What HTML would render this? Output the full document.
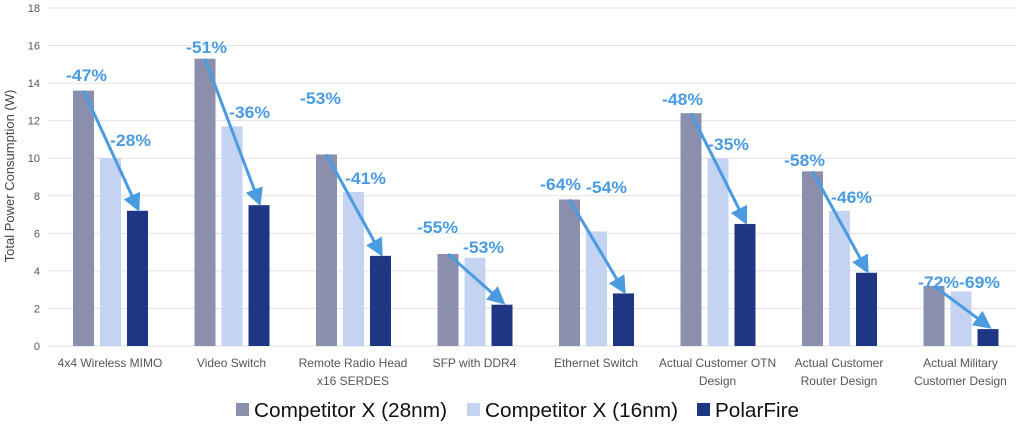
<!DOCTYPE html>
<html><head><meta charset="utf-8"><style>
body{margin:0;background:#fff}
svg{display:block;font-family:"Liberation Sans",sans-serif}
</style></head><body>
<svg id="s" width="1024" height="430" xmlns="http://www.w3.org/2000/svg">
<defs><marker id="ah" markerWidth="6" markerHeight="6" refX="4.5" refY="3" orient="auto" markerUnits="strokeWidth"><path d="M0,0 L6,3 L0,6 z" fill="#4a9be0"/></marker></defs>
<text transform="translate(14,176) rotate(-90)" text-anchor="middle" font-size="13" fill="#444">Total Power Consumption (W)</text>
</svg>
<script>
const s=document.getElementById('s');const NS='http://www.w3.org/2000/svg';
function el(t,a,txt){const e=document.createElementNS(NS,t);for(const k in a)e.setAttribute(k,a[k]);if(txt!==undefined)e.textContent=txt;s.appendChild(e);return e;}
const y0=346,u=338/18;
for(let v=0;v<=18;v+=2){const y=y0-v*u;el('line',{x1:48,x2:1016,y1:y,y2:y,stroke:'#e2e2e2','stroke-width':1});el('text',{x:40,y:y+4,'text-anchor':'end','font-size':11,fill:'#555'},v);}
const d=[[13.6,10,7.2],[15.3,11.7,7.5],[10.2,8.2,4.8],[4.9,4.7,2.2],[7.8,6.1,2.8],[12.4,10,6.5],[9.3,7.2,3.9],[3.2,2.9,0.9]];
const names=[["4x4 Wireless MIMO"],["Video Switch"],["Remote Radio Head","x16 SERDES"],["SFP with DDR4"],["Ethernet Switch"],["Actual Customer OTN","Design"],["Actual Customer","Router Design"],["Actual Military","Customer Design"]];
const cols=['#8a8fae','#c5d3f3','#1f3685'];const off=[-37,-10,17];
const labs=[["-47%",66,75,"-28%",110,140,1],["-51%",186,47,"-36%",229,112,1],["-53%",300,98,"-41%",345,178,1],["-55%",417,227,"-53%",463,247,0],["-64%",540,184,"-54%",586,187,0],["-48%",662,99,"-35%",708,144,1],["-58%",784,160,"-46%",831,197,1],["-72%",918,282,"-69%",959,282,0]];
d.forEach((g,i)=>{const cx=110+i*121.5;
g.forEach((v,j)=>el('rect',{x:cx+off[j],y:y0-v*u,width:21,height:v*u,fill:cols[j]}));
names[i].forEach((n,k)=>el('text',{x:cx,y:367+k*18,'text-anchor':'middle','font-size':12,fill:'#555'},n));
});
d.forEach((g,i)=>{const cx=110+i*121.5;
el('line',{x1:cx-26.5,y1:y0-g[0]*u,x2:cx+27.5,y2:y0-g[2]*u-3,stroke:'#4a9be0','stroke-width':3,'marker-end':'url(#ah)'});
const L=labs[i];const fw=L[6]?'bold':'600';
el('text',{x:L[1],y:L[2]+6,'font-size':17,'font-weight':fw,fill:'#4a9be0',textLength:41,lengthAdjust:'spacingAndGlyphs'},L[0]);
el('text',{x:L[4],y:L[5]+6,'font-size':17,'font-weight':fw,fill:'#4a9be0',textLength:41,lengthAdjust:'spacingAndGlyphs'},L[3]);
});
const leg=[[236,'Competitor X (28nm)',193],[467,'Competitor X (16nm)',193],[697,'PolarFire',84]];
leg.forEach((l,i)=>{el('rect',{x:l[0],y:403,width:13,height:13,fill:cols[i]});el('text',{x:l[0]+18,y:417,'font-size':20,fill:'#111',textLength:l[2],lengthAdjust:'spacingAndGlyphs'},l[1]);});
</script>
</body></html>
